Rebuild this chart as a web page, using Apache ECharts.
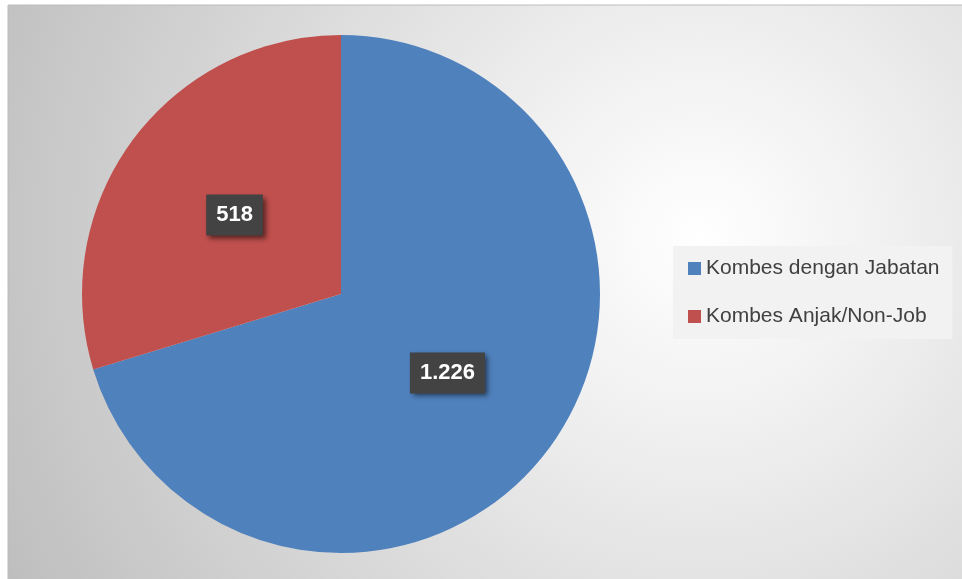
<!DOCTYPE html>
<html>
<head>
<meta charset="utf-8">
<script src="https://cdn.jsdelivr.net/npm/echarts@6/dist/echarts.min.js"></script>
<style>
html, body { margin: 0; padding: 0; background: #fff; }
#main { width: 962px; height: 579px; }
</style>
</head>
<body>
<div id="main"></div>
<script>
// data
let categories = ['Kombes dengan Jabatan', 'Kombes Anjak/Non-Job'];
let values = [1226, 518];
let sliceColors = ['#4F81BD', '#C0504D'];

function fmtNum(v){
	// titik sebagai pemisah ribuan
	return String(v).replace(/\B(?=(\d{3})+(?!\d))/g, '.');
}

var myChart = echarts.init(document.getElementById('main'));

var pieData = categories.map(function(name, i){
	return { name: name, value: values[i], itemStyle: { color: sliceColors[i] } };
});

var option = {
	animation: false,
	graphic: [
		{
			type: 'rect',
			z: -10,
			shape: { x: 8, y: 5, width: 960, height: 580 },
			style: {
				fill: new echarts.graphic.RadialGradient(0.72, 0.4, 1.35, [
					{ offset: 0, color: '#ffffff' },
					{ offset: 0.25, color: '#f0f0f0' },
					{ offset: 1, color: '#bdbdbd' }
				]),
				stroke: '#bcbcbc',
				lineWidth: 1
			}
		}
	],
	legend: {
		orient: 'vertical',
		left: 673,
		top: 246,
		padding: [12, 13, 12, 15],
		backgroundColor: '#f2f2f2',
		itemWidth: 13,
		itemHeight: 13,
		itemGap: 27,
		icon: 'rect',
		textStyle: {
			color: '#404040',
			fontSize: 21,
			fontFamily: 'Liberation Sans',
			padding: [0, 0, 0, 0]
		},
		data: categories
	},
	series: [
		{
			type: 'pie',
			center: [341, 294],
			radius: [0, 259],
			startAngle: 90,
			clockwise: true,
			label: {
				show: true,
				position: 'inside',
				formatter: function(p){ return fmtNum(p.value); },
				color: '#ffffff',
				fontSize: 22,
				fontWeight: 'bold',
				fontFamily: 'Liberation Sans',
				backgroundColor: '#434343',
				padding: [10, 10, 9, 10],
				shadowColor: 'rgba(0,0,0,0.55)',
				shadowBlur: 5,
				shadowOffsetX: 3,
				shadowOffsetY: 3
			},
			labelLine: { show: false },
			emphasis: { disabled: true },
			data: pieData
		}
	]
};

myChart.setOption(option);
</script>
</body>
</html>
